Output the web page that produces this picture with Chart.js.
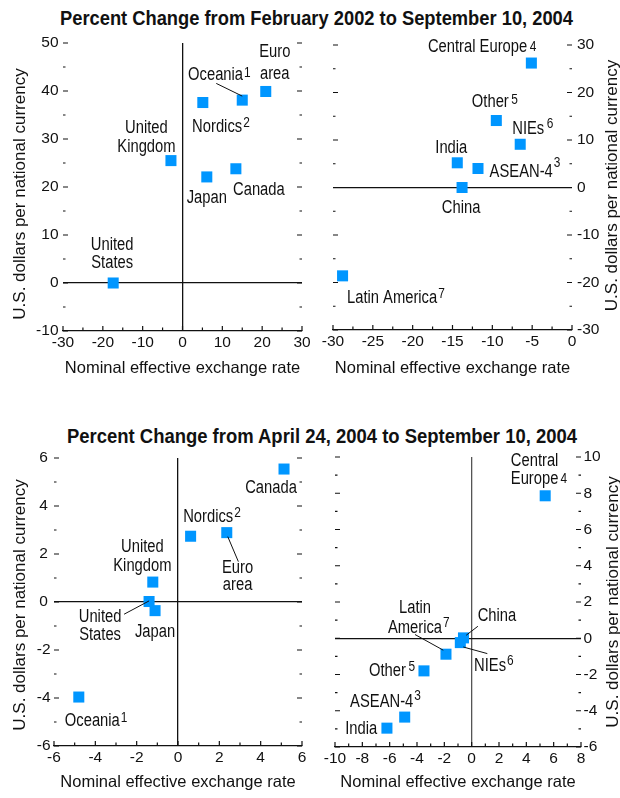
<!DOCTYPE html>
<html>
<head>
<meta charset="utf-8">
<script src="https://cdn.jsdelivr.net/npm/chart.js@4.4.1/dist/chart.umd.min.js"></script>
<style>
  html, body { margin: 0; padding: 0; background: #fff; }
  body { width: 620px; height: 798px; position: relative; overflow: hidden; }
  .title {
    position: absolute; white-space: nowrap;
    font: bold 21px "Liberation Sans", Arial, sans-serif;
    line-height: 20px; color: #111;
    transform-origin: 0 0;
  }
  canvas { position: absolute; }
</style>
</head>
<body>
<div class="title" id="t1" style="top:7.7px;">Percent Change from February 2002 to September 10, 2004</div>
<div class="title" id="t2" style="top:425.7px;">Percent Change from April 24, 2004 to September 10, 2004</div>
<canvas id="c1" width="310" height="370" style="left:0; top:30px;"></canvas>
<canvas id="c2" width="310" height="370" style="left:310px; top:30px;"></canvas>
<canvas id="c3" width="310" height="398" style="left:0; top:400px;"></canvas>
<canvas id="c4" width="310" height="398" style="left:310px; top:400px;"></canvas>
<script>
// ─── Data ─────────────────────────────────────────────────────────────────────
// Top left: industrial countries, Feb 2002 – Sep 10, 2004
const c1Names = ['United\nStates', 'United\nKingdom', 'Nordics', 'Oceania', 'Euro\narea', 'Japan', 'Canada'];
const c1Notes = ['', '', '2', '1', '', '', ''];
const c1X = [-17.4, -2.9, 5.1, 15.0, 20.9, 6.1, 13.4];
const c1Y = [0.0, 25.5, 37.6, 38.1, 39.9, 22.1, 23.8];
const c1XTicks = [-30, -20, -10, 0, 10, 20, 30];
const c1YTicks = [-10, 0, 10, 20, 30, 40, 50];

// Top right: emerging markets, Feb 2002 – Sep 10, 2004
const c2Names = ['Central Europe', 'Other', 'NIEs', 'India', 'ASEAN-4', 'China', 'Latin America'];
const c2Notes = ['4', '5', '6', '', '3', '', '7'];
const c2X = [-5.1, -9.5, -6.5, -14.4, -11.8, -13.8, -28.8];
const c2Y = [26.2, 14.1, 9.1, 5.2, 4.0, 0.0, -18.6];
const c2XTicks = [-30, -25, -20, -15, -10, -5, 0];
const c2YTicks = [-30, -20, -10, 0, 10, 20, 30];

// Bottom left: industrial countries, Apr 24 – Sep 10, 2004
const c3Names = ['Canada', 'Nordics', 'Euro\narea', 'United\nKingdom', 'United\nStates', 'Japan', 'Oceania'];
const c3Notes = ['', '2', '', '', '', '', '1'];
const c3X = [5.13, 0.61, 2.36, -1.22, -1.40, -1.11, -4.80];
const c3Y = [5.54, 2.74, 2.89, 0.83, 0.02, -0.36, -3.96];
const c3XTicks = [-6, -4, -2, 0, 2, 4, 6];
const c3YTicks = [-6, -4, -2, 0, 2, 4, 6];

// Bottom right: emerging markets, Apr 24 – Sep 10, 2004
const c4Names = ['Central\nEurope', 'China', 'NIEs', 'Latin\nAmerica', 'Other', 'ASEAN-4', 'India'];
const c4Notes = ['4', '', '6', '7', '5', '3', ''];
const c4X = [5.38, -0.60, -0.83, -1.88, -3.49, -4.90, -6.20];
const c4Y = [7.86, 0.02, -0.24, -0.88, -1.80, -4.35, -4.96];
const c4XTicks = [-10, -8, -6, -4, -2, 0, 2, 4, 6, 8];
const c4YTicks = [-6, -4, -2, 0, 2, 4, 6, 8, 10];

const xTitle = 'Nominal effective exchange rate';
const yTitle = 'U.S. dollars per national currency';

// ─── Label placement (pixel offsets from each marker) ─────────────────────────
const c1Labels = [
  { align: 'center', dx: -1, dy: -33.3 },
  { align: 'center', dx: -24.5, dy: -27.4 },
  { align: 'left', dx: -10.7, dy: 29, rise: 5 },
  { align: 'center', dx: -26.7, dy: -20, rise: 3, leader: [-26, -16.7, 0, -4] },
  { align: 'center', dx: 9, dy: -34, lh: 21.5 },
  { align: 'center', dx: 0, dy: 26.5 },
  { align: 'center', dx: 23, dy: 26 },
];
const c2Labels = [
  { align: 'center', dx: -53.8, dy: -10.6, rise: 1, gap: 2.5 },
  { align: 'center', dx: -6, dy: -13.4, rise: 3.5, gap: 2.5 },
  { align: 'center', dx: 8, dy: -10.4, rise: 6, gap: 2.5 },
  { align: 'center', dx: -6, dy: -10.3 },
  { align: 'left', dx: 11.6, dy: 8, rise: 10 },
  { align: 'center', dx: -1, dy: 25 },
  { align: 'left', dx: 4.4, dy: 26.7, rise: 5 },
];
const c3Labels = [
  { align: 'center', dx: -13, dy: 24 },
  { align: 'left', dx: -7.4, dy: -14.6, rise: 5 },
  { align: 'center', dx: 10.8, dy: 40, lh: 17.3, leader: [1, 4, 11.6, 29] },
  { align: 'center', dx: -10.4, dy: -29.7 },
  { align: 'center', dx: -49, dy: 20.4, leader: [-25, 12.7, 0, -0.6] },
  { align: 'center', dx: 0, dy: 26 },
  { align: 'center', dx: 13.5, dy: 28.7, rise: 4 },
];
const c4Labels = [
  { align: 'center', dx: -10.6, dy: -30, lh: 18.3, rise: 1, gap: 2 },
  { align: 'center', dx: 33.5, dy: -17.3, leader: [14.4, -11.6, 2.7, -2.6] },
  { align: 'center', dx: 29.7, dy: 28.4, rise: 6.5, leader: [3, 4.4, 27, 11] },
  { align: 'center', dx: -31, dy: -41.7, lh: 20, rise: 5.5, leader: [-31, -19.7, -2.7, -4] },
  { align: 'center', dx: -36.5, dy: 5.3, rise: 5, gap: 2.5 },
  { align: 'center', dx: -23, dy: -10, rise: 7.5 },
  { align: 'center', dx: -25.8, dy: 5.6 },
];

// ─── Styles ───────────────────────────────────────────────────────────────────
const SANS = '"Liberation Sans", Arial, sans-serif';
const SQUEEZE = 0.82;   // condensed look for point labels
const INK = '#111';
const BLUE = '#0096ff';

// titles: squeeze horizontally to the condensed width of the original
[['t1', 316.5, 513], ['t2', 322, 510]].forEach(([id, cx, w]) => {
  const el = document.getElementById(id);
  const k = w / el.getBoundingClientRect().width;
  el.style.left = (cx - w / 2) + 'px';
  el.style.transform = `scaleX(${k})`;
});

function midpoints(arr) {
  const out = [];
  for (let i = 0; i < arr.length - 1; i++) out.push((arr[i] + arr[i + 1]) / 2);
  return out;
}

function narrowText(ctx, text, x, y, size) {
  ctx.save();
  ctx.font = `${size}px ${SANS}`;
  ctx.translate(x, y);
  ctx.scale(SQUEEZE, 1);
  ctx.fillText(text, 0, 0);
  ctx.restore();
}
function narrowWidth(ctx, text, size) {
  ctx.font = `${size}px ${SANS}`;
  return ctx.measureText(text).width * SQUEEZE;
}

// ─── Decorations: inner tick dashes, point labels, vertical axis title ───────
const decorPlugin = {
  id: 'decor',
  afterDraw(chart, args, o) {
    const { ctx, chartArea: a, scales: { x, y } } = chart;
    ctx.save();

    ctx.strokeStyle = INK;
    ctx.lineWidth = 1.2;
    ctx.beginPath();
    const yDash = (v, len) => {
      const py = y.getPixelForValue(v);
      ctx.moveTo(a.left, py); ctx.lineTo(a.left + len, py);
      ctx.moveTo(a.right, py); ctx.lineTo(a.right - len, py);
    };
    const xDash = (v, len) => {
      const px = x.getPixelForValue(v);
      ctx.moveTo(px, a.bottom); ctx.lineTo(px, a.bottom - len);
    };
    o.yTicks.forEach(v => yDash(v, 5));
    midpoints(o.yTicks).forEach(v => yDash(v, 2.5));
    o.xTicks.forEach(v => xDash(v, 5));
    midpoints(o.xTicks).forEach(v => xDash(v, 3.5));
    ctx.stroke();

    // point labels
    const meta = chart.getDatasetMeta(0);
    ctx.fillStyle = INK;
    ctx.textAlign = 'left';
    ctx.textBaseline = 'alphabetic';
    meta.data.forEach((pt, i) => {
      const L = o.labels[i];
      const lines = o.names[i].split('\n');
      const lh = L.lh || 18.5;
      lines.forEach((line, k) => {
        const w = narrowWidth(ctx, line, 18);
        const bx = L.align === 'left' ? pt.x + L.dx : pt.x + L.dx - w / 2;
        const by = pt.y + L.dy + k * lh;
        narrowText(ctx, line, bx, by, 18);
        if (o.notes[i] && k === lines.length - 1) {
          narrowText(ctx, o.notes[i], bx + w + (L.gap ?? 1), by - (L.rise ?? 5), 14.5);
        }
      });
      if (L.leader) {
        const [x1, y1, x2, y2] = L.leader;
        ctx.lineWidth = 1;
        ctx.beginPath();
        ctx.moveTo(pt.x + x1, pt.y + y1);
        ctx.lineTo(pt.x + x2, pt.y + y2);
        ctx.stroke();
      }
    });

    // vertical axis title, read bottom-to-top on either side
    ctx.font = `17px ${SANS}`;
    ctx.textAlign = 'center';
    ctx.translate(o.yTitleX, (a.top + a.bottom) / 2 + (o.yTitleDy || 0));
    ctx.rotate(-Math.PI / 2);
    ctx.fillText(yTitle, 0, 0);
    ctx.restore();
  }
};

// ─── Chart factory ────────────────────────────────────────────────────────────
function makeChart(id, cfg) {
  const zeroColor = (on, col) => c => (on && c.tick && c.tick.value === 0) ? col : 'rgba(0,0,0,0)';
  return new Chart(document.getElementById(id), {
    type: 'scatter',
    data: {
      datasets: [{
        data: cfg.xs.map((v, i) => ({ x: v, y: cfg.ys[i] })),
        pointStyle: 'rect',
        pointRadius: 7.8,
        pointHoverRadius: 7.8,
        backgroundColor: BLUE,
        borderWidth: 0,
      }],
    },
    options: {
      responsive: false,
      animation: false,
      events: [],
      layout: { padding: cfg.pad },
      plugins: {
        legend: { display: false },
        tooltip: { enabled: false },
        decor: {
          xTicks: cfg.xTicks, yTicks: cfg.yTicks,
          names: cfg.names, notes: cfg.notes, labels: cfg.labels,
          yTitleX: cfg.yTitleX, yTitleDy: cfg.yTitleDy,
        },
      },
      scales: {
        x: {
          type: 'linear',
          position: 'bottom',
          min: cfg.xTicks[0],
          max: cfg.xTicks[cfg.xTicks.length - 1],
          afterBuildTicks: s => { s.ticks = cfg.xTicks.map(v => ({ value: v })); },
          afterFit: s => { s.height = cfg.xH; s.paddingLeft = 0; s.paddingRight = 0; },
          grid: { drawTicks: false, lineWidth: 1.3, color: zeroColor(cfg.xZero, cfg.xZeroColor || INK) },
          border: { display: true, color: INK, width: 1.3 },
          ticks: {
            padding: 2, autoSkip: false, maxRotation: 0, color: INK,
            font: { family: SANS, size: 15.5 },
            callback: v => String(v),
          },
          title: {
            display: true, text: xTitle, color: INK,
            font: { family: SANS, size: 16.5 },
            padding: { top: 0, bottom: cfg.xTitlePad },
          },
        },
        y: {
          type: 'linear',
          position: cfg.yPos,
          min: cfg.yTicks[0],
          max: cfg.yTicks[cfg.yTicks.length - 1],
          afterBuildTicks: s => { s.ticks = cfg.yTicks.map(v => ({ value: v })); },
          afterFit: s => { s.width = cfg.yW; s.paddingTop = 0; s.paddingBottom = 0; },
          grid: { drawTicks: false, lineWidth: 1.3, color: zeroColor(true, INK) },
          border: { display: false },
          ticks: {
            padding: cfg.yPad, crossAlign: cfg.yAlign || 'near', color: INK,
            font: { family: SANS, size: 15.5 },
            callback: v => String(v),
          },
        },
      },
    },
    plugins: [decorPlugin],
  });
}

makeChart('c1', {
  xs: c1X, ys: c1Y, names: c1Names, notes: c1Notes, labels: c1Labels,
  xTicks: c1XTicks, yTicks: c1YTicks,
  pad: { top: 13, right: 8, left: 0, bottom: 0 },
  yPos: 'left', yW: 63, yPad: 4.5, xH: 69, xTitlePad: 21.8, xZero: true,
  yTitleX: 25, yTitleDy: 7,
});
makeChart('c2', {
  xs: c2X, ys: c2Y, names: c2Names, notes: c2Notes, labels: c2Labels,
  xTicks: c2XTicks, yTicks: c2YTicks,
  pad: { top: 15, right: 0, left: 23, bottom: 0 },
  yPos: 'right', yW: 48, yPad: 5, xH: 70, xTitlePad: 21.8, xZero: false,
  yTitleX: 306.5, yTitleDy: -2,
});
makeChart('c3', {
  xs: c3X, ys: c3Y, names: c3Names, notes: c3Notes, labels: c3Labels,
  xTicks: c3XTicks, yTicks: c3YTicks,
  pad: { top: 58, right: 8, left: 0, bottom: 0 },
  yPos: 'left', yW: 54, yPad: 3.5, yAlign: 'center', xH: 52, xTitlePad: 5.2, xZero: true,
  yTitleX: 25, yTitleDy: 3,
});
makeChart('c4', {
  xs: c4X, ys: c4Y, names: c4Names, notes: c4Notes, labels: c4Labels,
  xTicks: c4XTicks, yTicks: c4YTicks,
  pad: { top: 57, right: 0, left: 25, bottom: 0 },
  yPos: 'right', yW: 39, yPad: 2.5, xH: 51, xTitlePad: 5.2, xZero: true, xZeroColor: '#555',
  yTitleX: 308, yTitleDy: 0,
});
</script>
</body>
</html>
